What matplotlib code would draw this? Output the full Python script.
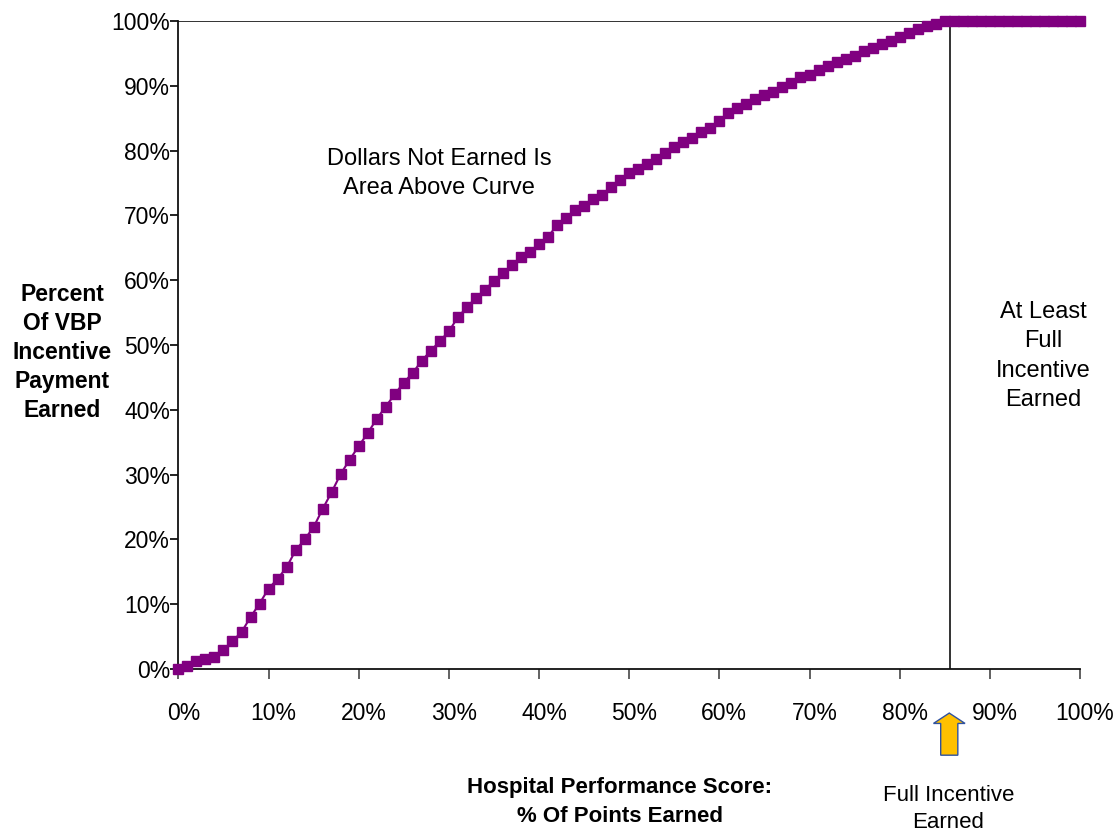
import matplotlib
matplotlib.use('Agg')
import matplotlib.pyplot as plt
import matplotlib.transforms as mtransforms
from matplotlib import font_manager
from matplotlib.patches import FancyArrow

# Performance score (% of points) vs percent of incentive earned
score = list(range(0, 101))
earned = [0, 0.4, 1.2, 1.6, 1.9, 3.0, 4.3, 5.7, 8.0, 10.1,
          12.4, 13.9, 15.7, 18.3, 20.0, 21.9, 24.7, 27.3, 30.1, 32.3,
          34.4, 36.4, 38.6, 40.5, 42.4, 44.2, 45.7, 47.6, 49.1, 50.6,
          52.1, 54.3, 55.8, 57.3, 58.5, 59.9, 61.1, 62.3, 63.5, 64.4,
          65.6, 66.7, 68.5, 69.6, 70.8, 71.5, 72.6, 73.1, 74.4, 75.4,
          76.6, 77.1, 77.9, 78.7, 79.7, 80.6, 81.3, 82.0, 82.8, 83.5,
          84.5, 85.8, 86.5, 87.2, 87.9, 88.6, 89.0, 89.8, 90.5, 91.3,
          91.7, 92.4, 93.1, 93.6, 94.2, 94.6, 95.4, 95.8, 96.5, 96.9,
          97.6, 98.1, 98.8, 99.2, 99.6] + [100] * 16
full_incentive_at = 85.6
tick_values = [0, 10, 20, 30, 40, 50, 60, 70, 80, 90, 100]
tick_labels = ['0%', '10%', '20%', '30%', '40%', '50%', '60%', '70%', '80%', '90%', '100%']


def pick_font(names):
    for name in names:
        try:
            font_manager.findfont(name, fallback_to_default=False)
            return name
        except Exception:
            continue
    return 'DejaVu Sans'


base_font = pick_font(['Liberation Sans', 'Arial'])
plt.rcParams['font.family'] = base_font

fig = plt.figure(figsize=(11.15, 8.35), dpi=100)
ax = fig.add_axes([0.16, 0.1988, 0.8086, 0.7761])

ax.plot(score, earned, color='#800080', linewidth=1.5, marker='s',
        markersize=7.4, markeredgecolor='#800080', clip_on=False, zorder=3)

# outline of the "full incentive" region
ax.plot([0, full_incentive_at, full_incentive_at], [100, 100, 0],
        color='#222222', linewidth=1.3, zorder=2)

ax.set_xlim(0, 100)
ax.set_ylim(0, 100)
ax.set_xticks(tick_values)
ax.set_xticklabels(tick_labels)
ax.set_yticks(tick_values)
ax.set_yticklabels(tick_labels)

for side in ['top', 'right']:
    ax.spines[side].set_visible(False)
for side in ['left', 'bottom']:
    ax.spines[side].set_linewidth(1.3)
    ax.spines[side].set_color('#111111')

ax.tick_params(axis='x', direction='out', length=7, width=1.3, color='#555555',
               pad=17, labelsize=16.5)
ax.tick_params(axis='y', direction='out', length=6, width=1.3, color='#111111',
               pad=0, labelsize=16.5)
shift = mtransforms.ScaledTranslation(5 / 100, 0, fig.dpi_scale_trans)
for lab in ax.get_xticklabels():
    lab.set_transform(lab.get_transform() + shift)

ax.text(28.9, 76.4, 'Dollars Not Earned Is\nArea Above Curve', ha='center',
        va='center', fontsize=17, linespacing=1.4)
ax.text(95.9, 48.3, 'At Least\nFull\nIncentive\nEarned', ha='center',
        va='center', fontsize=17, linespacing=1.45)
ax.text(full_incentive_at - 0.2, -21.6, 'Full Incentive\nEarned', ha='center',
        va='center', fontsize=16, linespacing=1.35, clip_on=False)

arrow = FancyArrow(full_incentive_at - 0.1, -13.3, 0, 6.5, width=1.9,
                   head_width=3.5, head_length=1.6, length_includes_head=True,
                   facecolor='#FFC000', edgecolor='#2F52A0', linewidth=1.0,
                   clip_on=False)
ax.add_patch(arrow)

fig.text(0.0556, 0.578, 'Percent\nOf VBP\nIncentive\nPayment\nEarned', ha='center',
         va='center', fontsize=16.5, fontweight='bold', linespacing=1.33)
fig.text(0.556, 0.0395, 'Hospital Performance Score:\n% Of Points Earned', ha='center',
         va='center', fontsize=16, fontweight='bold', linespacing=1.45)

fig.savefig('out.png', dpi=100)
